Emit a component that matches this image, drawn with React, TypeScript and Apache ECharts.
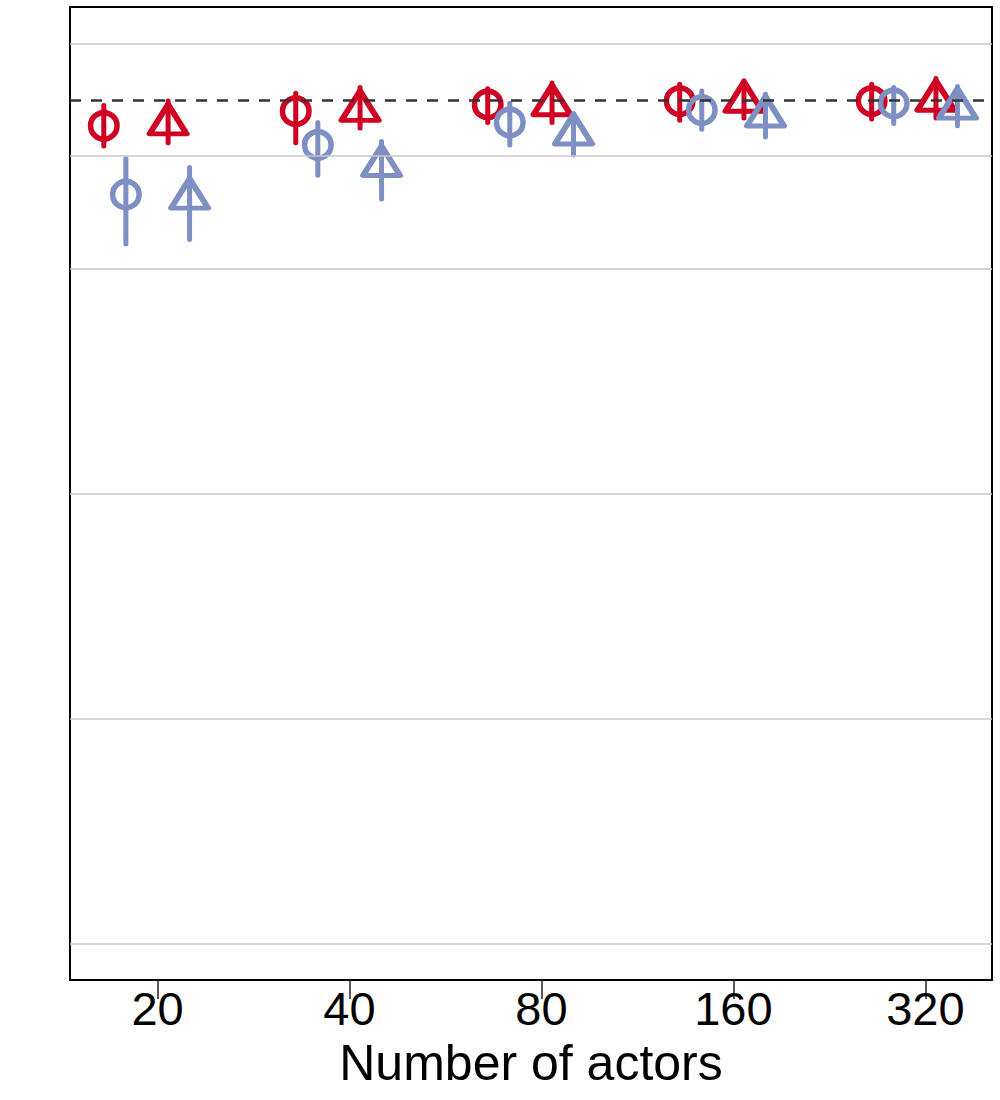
import React, { useEffect, useRef } from "react";
import * as echarts from "echarts";

// Categories (number of actors)
const categories = ["20", "40", "80", "160", "320"];

// Horizontal dodge of each series within a category (in category units)
const dodge = { redCircle: -0.28, blueCircle: -0.165, redTri: 0.055, blueTri: 0.167 };

// Estimates with lower / upper interval bounds
const redCircleVal = [0.927, 0.940, 0.946, 0.949, 0.949];
const redCircleLo = [0.909, 0.912, 0.930, 0.932, 0.933];
const redCircleHi = [0.945, 0.956, 0.960, 0.964, 0.964];

const blueCircleVal = [0.866, 0.910, 0.930, 0.941, 0.947];
const blueCircleLo = [0.822, 0.883, 0.910, 0.924, 0.929];
const blueCircleHi = [0.898, 0.930, 0.947, 0.958, 0.961];

const redTriVal = [0.933, 0.945, 0.950, 0.953, 0.954];
const redTriLo = [0.912, 0.925, 0.930, 0.934, 0.934];
const redTriHi = [0.949, 0.961, 0.965, 0.967, 0.969];

const blueTriVal = [0.867, 0.896, 0.924, 0.940, 0.947];
const blueTriLo = [0.826, 0.862, 0.901, 0.917, 0.927];
const blueTriHi = [0.890, 0.913, 0.938, 0.955, 0.962];

// Reference gridlines and nominal level
const gridValues = [0.2, 0.4, 0.6, 0.8, 0.9, 1.0];
const nominal = 0.95;

const RED = "#CF0022";
const BLUE = "#7D8FC3";

function buildSeries(
  name: string,
  off: number,
  vals: number[],
  lo: number[],
  hi: number[],
  color: string,
  symbol: string,
  size: number | number[],
  z: number
) {
  const barData = vals.map((_, i) => [i + off, lo[i], hi[i]]);
  const ptData = vals.map((v, i) => [i + off, v]);
  return [
    {
      name: name + " interval",
      type: "custom",
      z,
      silent: true,
      data: barData,
      encode: { x: 0, y: [1, 2] },
      renderItem: (params: any, api: any) => {
        const x = api.value(0);
        const p1 = api.coord([x, api.value(1)]);
        const p2 = api.coord([x, api.value(2)]);
        return {
          type: "line",
          shape: { x1: p1[0], y1: p1[1], x2: p2[0], y2: p2[1] },
          style: { stroke: color, lineWidth: 5, lineCap: "round", opacity: 1 },
        };
      },
    },
    {
      name,
      type: "scatter",
      z,
      silent: true,
      data: ptData,
      symbol,
      symbolSize: size,
      itemStyle: {
        color: "rgba(255,255,255,0)",
        borderColor: color,
        borderWidth: 5.5,
        borderJoin: "round",
        opacity: 1,
      },
    },
  ];
}

export default function App() {
  const ref = useRef<HTMLDivElement>(null);

  useEffect(() => {
    document.body.style.margin = "0";
    if (!ref.current) return;
    const chart = echarts.init(ref.current, undefined, { renderer: "svg" });

    const option: any = {
      animation: false,
      backgroundColor: "#ffffff",
      textStyle: { fontFamily: "Liberation Sans, Arial, sans-serif" },
      grid: {
        left: 70,
        right: 8,
        top: 7,
        bottom: 120,
        containLabel: false,
        outerBoundsMode: "none",
        show: true,
        borderColor: "#000",
        borderWidth: 2,
        backgroundColor: "#fff",
      },
      xAxis: {
        type: "value",
        min: -0.456,
        max: 4.347,
        name: "Number of actors",
        nameLocation: "middle",
        nameGap: 58,
        nameTextStyle: { fontSize: 50, color: "#000", fontFamily: "Liberation Sans, Arial, sans-serif" },
        axisLine: { show: true, lineStyle: { color: "#000", width: 2 } },
        axisTick: {
          show: true,
          customValues: [0, 1, 2, 3, 4],
          length: 19,
          lineStyle: { color: "#222", width: 1.5 },
        },
        axisLabel: {
          show: true,
          customValues: [0, 1, 2, 3, 4],
          formatter: (v: number) => categories[Math.round(v)],
          fontSize: 47,
          color: "#000",
          margin: 5,
          fontFamily: "Liberation Sans, Arial, sans-serif",
        },
        splitLine: { show: false },
      },
      yAxis: {
        type: "value",
        min: 0.168,
        max: 1.0326,
        axisLine: { show: false },
        axisTick: { show: false },
        axisLabel: { show: false },
        splitLine: { show: false },
      },
      series: [
        {
          name: "reference",
          type: "scatter",
          data: [],
          z: 1,
          markLine: {
            silent: true,
            symbol: "none",
            label: { show: false },
            data: [
              ...gridValues.map((g) => ({
                yAxis: g,
                lineStyle: { color: "#c8c8c8", width: 1.6, type: "solid", opacity: 1 },
              })),
              {
                yAxis: nominal,
                lineStyle: { color: "#333", width: 2.5, type: [11, 10], opacity: 1 },
              },
            ],
          },
        },
        ...buildSeries("Red circle", dodge.redCircle, redCircleVal, redCircleLo, redCircleHi, RED, "circle", 26.5, 3),
        ...buildSeries("Red triangle", dodge.redTri, redTriVal, redTriLo, redTriHi, RED, "triangle", [37, 29.5], 3),
        ...buildSeries("Blue circle", dodge.blueCircle, blueCircleVal, blueCircleLo, blueCircleHi, BLUE, "circle", 26.5, 4),
        ...buildSeries("Blue triangle", dodge.blueTri, blueTriVal, blueTriLo, blueTriHi, BLUE, "triangle", [37, 29.5], 4),
      ],
    };

    chart.setOption(option);
    return () => chart.dispose();
  }, []);

  return <div ref={ref} style={{ width: 1000, height: 1100 }} />;
}
